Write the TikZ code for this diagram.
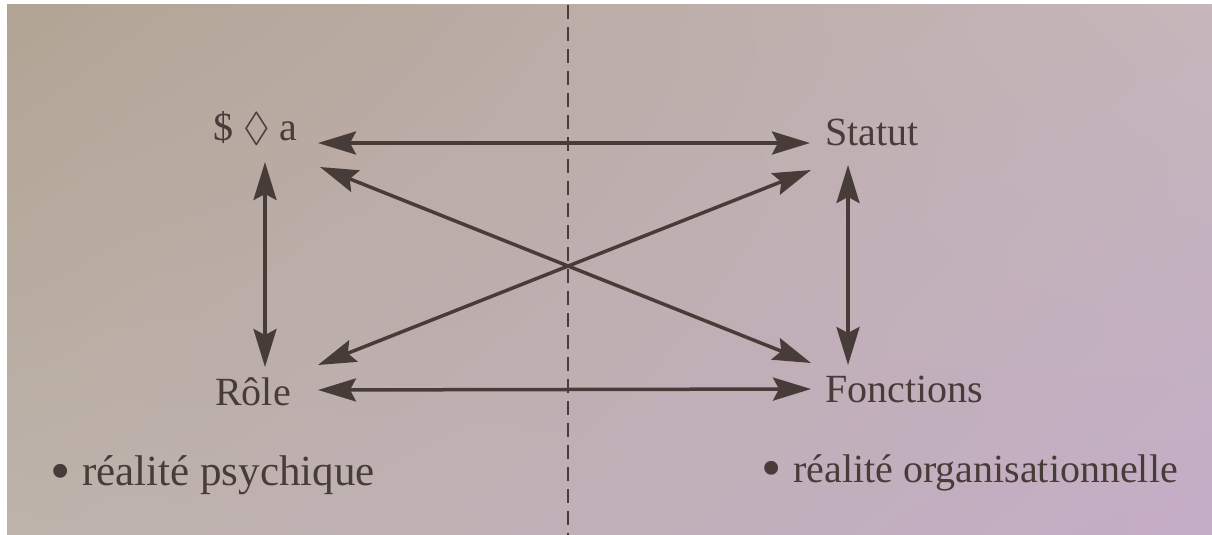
\documentclass[tikz,border=0pt]{standalone}
\usepackage{amssymb}
\usepackage{fontspec}
\setmainfont{Liberation Serif}
\usetikzlibrary{arrows.meta,shadings}
\definecolor{ink}{RGB}{72,60,56}
\definecolor{bgTL}{RGB}{178,164,148}
\definecolor{bgTR}{RGB}{198,183,188}
\definecolor{bgBL}{RGB}{190,180,172}
\definecolor{bgBR}{RGB}{196,172,200}
\tikzset{
  lbl/.style={anchor=base west, inner sep=0pt, text=ink, font=\fontsize{40}{48}\selectfont},
  dot/.style={inner sep=0pt, text=ink, font=\fontsize{58}{58}\selectfont},
  arr/.style={ink, line width=3.5pt, {Stealth[length=38pt 0,width=23pt 0,inset=6pt 0]}-{Stealth[length=38pt 0,width=23pt 0,inset=6pt 0]}},
  divider/.style={ink, line width=2.5pt, dash pattern=on 14pt off 8pt}
}
\begin{document}
\begin{tikzpicture}[x=1pt,y=-1pt]
\useasboundingbox (0,0) rectangle (1212,535);
\fill[white] (0,0) rectangle (1212,535);
\begin{scope}
\clip (7,5) rectangle (1212,535);
\fill[bgBL] (0,0) rectangle (1240,560);
\shade[upper left=bgTL, upper right=bgTR, lower left=bgBL, lower right=bgBR] (7,5) rectangle (1240,560);
\end{scope}
% divider
\coordinate (dtop) at (568,5);
\coordinate (dbot) at (568,535);
\draw[divider] (dtop) -- (dbot);
% labels
\node[lbl] (sa) at (213,140) {\$ $\lozenge$ a};
\node[lbl] (st) at (825,145) {Statut};
\node[lbl] (ro) at (215,405) {Rôle};
\node[lbl] (fo) at (825,402) {Fonctions};
\node[dot] (b1) at (61,477) {•};
\node[lbl, font=\fontsize{43}{50}\selectfont] (ps) at (82,485) {réalité psychique};
\node[dot] (b2) at (772,474) {•};
\node[lbl] (og) at (793,482) {réalité organisationnelle};
% arrows
\draw[arr] ([shift={(105,3)}]sa.base west) -- ([shift={(-15,-2)}]st.base west);
\draw[arr] ([shift={(52,22)}]sa.base west) -- ([shift={(50,-38)}]ro.base west);
\draw[arr] ([shift={(23,20)}]st.base west) -- ([shift={(23,-37)}]fo.base west);
\draw[arr] ([shift={(103,-15)}]ro.base west) -- ([shift={(-14,-13)}]fo.base west);
\draw[arr] ([shift={(107,27)}]sa.base west) -- ([shift={(-14,-39)}]fo.base west);
\draw[arr] ([shift={(103,-40)}]ro.base west) -- ([shift={(-14,25)}]st.base west);
\end{tikzpicture}
\end{document}
